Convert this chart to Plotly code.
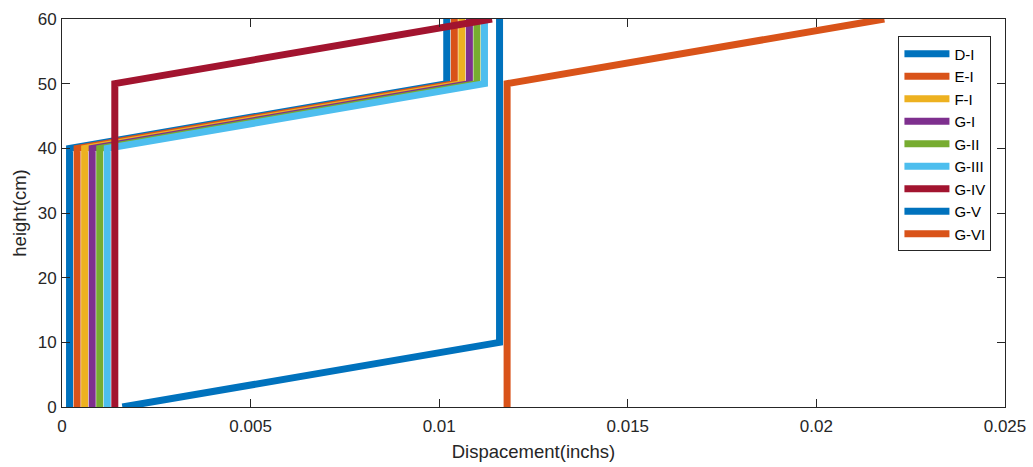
import plotly.graph_objects as go

names = ["D-I", "E-I", "F-I", "G-I", "G-II", "G-III", "G-IV", "G-V", "G-VI"]
colors = ["#0072BD", "#D95319", "#EDB120", "#7E2F8E", "#77AC30", "#4DBEEE",
          "#A2142F", "#0072BD", "#D95319"]

x_DI = [0.0002, 0.0002, 0.0102, 0.0102]
y_DI = [0, 40, 50, 60]
x_EI = [0.0004, 0.0004, 0.0104, 0.0104]
y_EI = [0, 40, 50, 60]
x_FI = [0.0006, 0.0006, 0.0106, 0.0106]
y_FI = [0, 40, 50, 60]
x_GI = [0.0008, 0.0008, 0.0108, 0.0108]
y_GI = [0, 40, 50, 60]
x_GII = [0.0010, 0.0010, 0.0110, 0.0110]
y_GII = [0, 40, 50, 60]
x_GIII = [0.0012, 0.0012, 0.0112, 0.0112]
y_GIII = [0, 40, 50, 60]
x_GIV = [0.0014, 0.0014, 0.0114]
y_GIV = [0, 50, 60]
x_GV = [0.0016, 0.0116, 0.0116]
y_GV = [0, 10, 60]
x_GVI = [0.0118, 0.0118, 0.0218]
y_GVI = [0, 50, 60]

xs = [x_DI, x_EI, x_FI, x_GI, x_GII, x_GIII, x_GIV, x_GV, x_GVI]
ys = [y_DI, y_EI, y_FI, y_GI, y_GII, y_GIII, y_GIV, y_GV, y_GVI]

fig = go.Figure()
for n, c, x, y in zip(names, colors, xs, ys):
    fig.add_trace(go.Scatter(x=x, y=y, mode="lines", name=n,
                             line=dict(color=c, width=7)))

font = "Arial, Liberation Sans, sans-serif"
axis_common = dict(showgrid=False, zeroline=False, showline=True,
                   linecolor="#262626", linewidth=1, mirror="ticks",
                   ticks="inside", ticklen=8, tickcolor="#262626",
                   automargin=False,
                   tickfont=dict(family=font, size=17, color="#262626"))

fig.update_layout(
    width=1033, height=467,
    margin=dict(l=62, r=28, t=19, b=60),
    paper_bgcolor="white", plot_bgcolor="white",
    font=dict(family=font, color="#262626"),
    xaxis=dict(range=[0, 0.025], tickvals=[0, 0.005, 0.01, 0.015, 0.02, 0.025],
               ticktext=["0", "0.005", "0.01", "0.015", "0.02", "0.025"],
               ticklabelstandoff=4,
               title=dict(text="Dispacement(inchs)", font=dict(size=18.5), standoff=9),
               **axis_common),
    yaxis=dict(range=[0, 60], tickvals=[0, 10, 20, 30, 40, 50, 60],
               ticklabelstandoff=1,
               title=dict(text="height(cm)", font=dict(size=18.5), standoff=6),
               **axis_common),
    legend=dict(x=0.887, y=0.955, xanchor="left", yanchor="top",
                bgcolor="white", bordercolor="#262626", borderwidth=1,
                font=dict(family=font, size=15, color="#000000"),
                itemwidth=45, tracegroupgap=0),
    showlegend=True,
)

fig.write_html("out.html")
